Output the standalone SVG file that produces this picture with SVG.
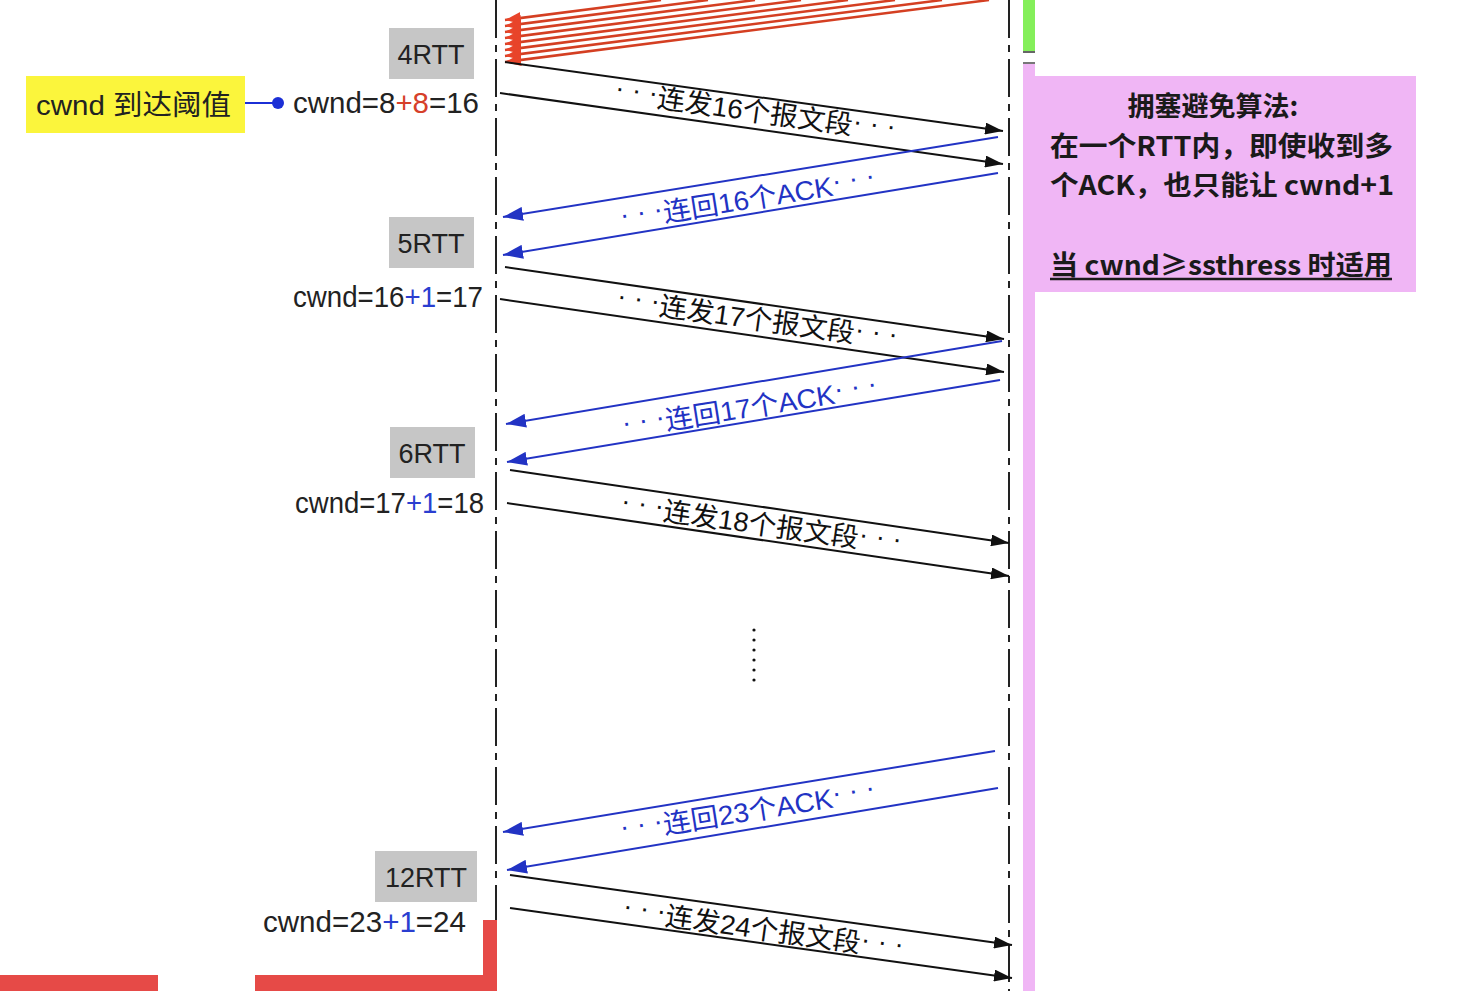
<svg xmlns="http://www.w3.org/2000/svg" width="1466" height="991" viewBox="0 0 1466 991">
<defs>
<style>
.lane{stroke:#222;stroke-width:2;stroke-dasharray:38 7 7 7;fill:none}
.blk{stroke:#111;stroke-width:2;fill:none;marker-end:url(#ab)}
.blu{stroke:#2233c4;stroke-width:2;fill:none;marker-end:url(#au)}
.red{stroke:#d43f22;stroke-width:2.5;fill:none;marker-end:url(#ar)}
.rtt{fill:#c6c6c6}
.rtxt{font-family:"Liberation Sans","Noto Sans CJK SC",sans-serif;font-size:27px;fill:#222;text-anchor:middle}
.cw{font-family:"Liberation Sans","Noto Sans CJK SC",sans-serif;font-size:29.5px;fill:#222}
.lbl{font-family:"Liberation Sans","Noto Sans CJK SC",sans-serif;font-size:27px;text-anchor:middle}
.pk{font-family:"Noto Sans CJK SC",sans-serif;font-size:27px;font-weight:bold;fill:#1a1a1a}
</style>
<marker id="ab" markerUnits="userSpaceOnUse" markerWidth="18" markerHeight="12" refX="18" refY="6" orient="auto"><path d="M0,0 L18,6 L0,12 z" fill="#111"/></marker>
<marker id="au" markerUnits="userSpaceOnUse" markerWidth="20" markerHeight="14" refX="20" refY="7" orient="auto"><path d="M0,0 L20,7 L0,14 z" fill="#2233c4"/></marker>
<marker id="ar" markerUnits="userSpaceOnUse" markerWidth="16" markerHeight="12" refX="16" refY="6" orient="auto"><path d="M0,0 L16,6 L0,12 z" fill="#e8442a"/></marker>
</defs>
<rect width="1466" height="991" fill="#ffffff"/>

<g id="lanes">
<line class="lane" x1="496" y1="0" x2="496" y2="991"/>
<line class="lane" x1="1009" y1="0" x2="1009" y2="991"/>
</g>

<g id="side-bars">
<rect x="1023" y="0" width="12" height="52" fill="#84ef5a"/>
<rect x="1023" y="51" width="12" height="2" fill="#666"/>
<rect x="1023" y="62" width="12" height="2" fill="#777"/>
<rect x="1023" y="64" width="12" height="927" fill="#f0b6f5"/>
</g>

<g id="bottom-red">
<rect x="0" y="975" width="158" height="16" fill="#e64a47"/>
<path d="M255,975 L483,975 L483,920 L497,920 L497,991 L255,991 z" fill="#e64a47"/>
</g>

<g id="connectors">
<line class="red" x1="661" y1="0" x2="505" y2="20"/>
<line class="red" x1="708" y1="0" x2="505" y2="26"/>
<line class="red" x1="755" y1="0" x2="505" y2="32"/>
<line class="red" x1="801" y1="0" x2="505" y2="38"/>
<line class="red" x1="848" y1="0" x2="505" y2="44"/>
<line class="red" x1="895" y1="0" x2="505" y2="50"/>
<line class="red" x1="942" y1="0" x2="505" y2="56"/>
<line class="red" x1="989" y1="0" x2="505" y2="62"/>

<line class="blk" x1="505" y1="62" x2="1003" y2="131"/>
<line class="blk" x1="500" y1="93" x2="1003" y2="164"/>
<line class="blu" x1="998" y1="137" x2="503" y2="217"/>
<line class="blu" x1="998" y1="173" x2="503" y2="255"/>

<line class="blk" x1="505" y1="267" x2="1004" y2="339"/>
<line class="blk" x1="500" y1="299" x2="1004" y2="372"/>
<line class="blu" x1="1002" y1="341" x2="506" y2="424"/>
<line class="blu" x1="1000" y1="380" x2="507" y2="462"/>

<line class="blk" x1="510" y1="470" x2="1009" y2="543"/>
<line class="blk" x1="507" y1="503" x2="1009" y2="576"/>

<line class="blu" x1="995" y1="751" x2="503" y2="832"/>
<line class="blu" x1="998" y1="788" x2="507" y2="870"/>
<line class="blk" x1="510" y1="875" x2="1012" y2="945"/>
<line class="blk" x1="510" y1="908" x2="1012" y2="978"/>

<line x1="245" y1="103" x2="274" y2="103" stroke="#1b2fd6" stroke-width="2"/>
<circle cx="278" cy="103" r="6" fill="#1b2fd6"/>
</g>

<g id="labels">
<text class="lbl" fill="#111" transform="translate(755,112) rotate(8)" y="9" textLength="283" lengthAdjust="spacingAndGlyphs"><tspan dy="-5">· · ·</tspan><tspan dy="5">连发16个报文段</tspan><tspan dy="-5">· · ·</tspan></text>
<text class="lbl" fill="#2233c4" transform="translate(748,200) rotate(-9)" y="9" textLength="258" lengthAdjust="spacingAndGlyphs"><tspan dy="-5">· · ·</tspan><tspan dy="5">连回16个ACK</tspan><tspan dy="-5">· · ·</tspan></text>
<text class="lbl" fill="#111" transform="translate(757,320) rotate(8)" y="9" textLength="283" lengthAdjust="spacingAndGlyphs"><tspan dy="-5">· · ·</tspan><tspan dy="5">连发17个报文段</tspan><tspan dy="-5">· · ·</tspan></text>
<text class="lbl" fill="#2233c4" transform="translate(750,408) rotate(-9)" y="9" textLength="258" lengthAdjust="spacingAndGlyphs"><tspan dy="-5">· · ·</tspan><tspan dy="5">连回17个ACK</tspan><tspan dy="-5">· · ·</tspan></text>
<text class="lbl" fill="#111" transform="translate(761,525) rotate(8)" y="9" textLength="283" lengthAdjust="spacingAndGlyphs"><tspan dy="-5">· · ·</tspan><tspan dy="5">连发18个报文段</tspan><tspan dy="-5">· · ·</tspan></text>
<text class="lbl" fill="#2233c4" transform="translate(748,812) rotate(-9)" y="9" textLength="258" lengthAdjust="spacingAndGlyphs"><tspan dy="-5">· · ·</tspan><tspan dy="5">连回23个ACK</tspan><tspan dy="-5">· · ·</tspan></text>
<text class="lbl" fill="#111" transform="translate(763,930) rotate(8)" y="9" textLength="283" lengthAdjust="spacingAndGlyphs"><tspan dy="-5">· · ·</tspan><tspan dy="5">连发24个报文段</tspan><tspan dy="-5">· · ·</tspan></text>
</g>

<g id="dots" fill="#111">
<circle cx="754" cy="630" r="1.6"/><circle cx="754" cy="640" r="1.6"/><circle cx="754" cy="650" r="1.6"/>
<circle cx="754" cy="660" r="1.6"/><circle cx="754" cy="670" r="1.6"/><circle cx="754" cy="680" r="1.6"/>
</g>

<g id="rtt4"><rect class="rtt" x="389" y="28" width="85" height="51"/><text class="rtxt" x="431" y="64">4RTT</text></g>
<g id="rtt5"><rect class="rtt" x="389" y="217" width="85" height="51"/><text class="rtxt" x="431" y="253">5RTT</text></g>
<g id="rtt6"><rect class="rtt" x="390" y="427" width="85" height="51"/><text class="rtxt" x="432" y="463">6RTT</text></g>
<g id="rtt12"><rect class="rtt" x="375" y="851" width="102" height="51"/><text class="rtxt" x="426" y="887">12RTT</text></g>

<g id="cwnd16"><text class="cw" x="293" y="113" textLength="186" lengthAdjust="spacingAndGlyphs">cwnd=8<tspan fill="#d6402a">+8</tspan>=16</text></g>
<g id="cwnd17"><text class="cw" x="293" y="307" textLength="190" lengthAdjust="spacingAndGlyphs">cwnd=16<tspan fill="#2a3ed0">+1</tspan>=17</text></g>
<g id="cwnd18"><text class="cw" x="295" y="513" textLength="189" lengthAdjust="spacingAndGlyphs">cwnd=17<tspan fill="#2a3ed0">+1</tspan>=18</text></g>
<g id="cwnd24"><text class="cw" x="263" y="932" textLength="203" lengthAdjust="spacingAndGlyphs">cwnd=23<tspan fill="#2a3ed0">+1</tspan>=24</text></g>

<g id="threshold">
<rect x="26" y="76" width="219" height="57" fill="#fbf53c"/>
<text x="36" y="115" font-family="'Liberation Sans','Noto Sans CJK SC',sans-serif" font-size="28" fill="#222" textLength="195" lengthAdjust="spacingAndGlyphs">cwnd 到达阈值</text>
</g>

<g id="note">
<rect x="1035" y="76" width="381" height="216" fill="#f0b6f5"/>
<text class="pk" x="1213" y="116" text-anchor="middle">拥塞避免算法:</text>
<text class="pk" x="1050" y="156" textLength="343" lengthAdjust="spacingAndGlyphs">在一个RTT内，即使收到多</text>
<text class="pk" x="1050" y="195" textLength="344" lengthAdjust="spacingAndGlyphs">个ACK，也只能让 cwnd+1</text>
<text class="pk" x="1050" y="275" textLength="342" lengthAdjust="spacingAndGlyphs">当 cwnd≥ssthress 时适用</text>
<line x1="1050" y1="279" x2="1392" y2="279" stroke="#1a1a1a" stroke-width="2.5"/>
</g>
</svg>
